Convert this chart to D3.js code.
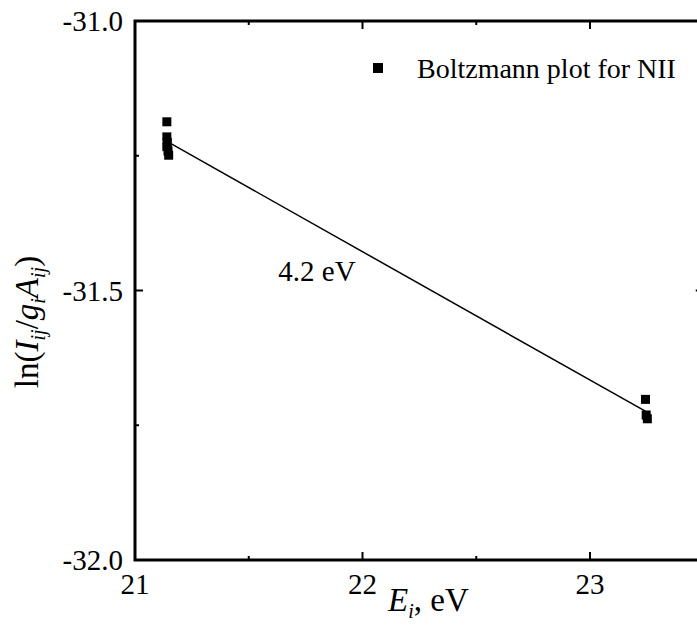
<!DOCTYPE html>
<html>
<head>
<meta charset="utf-8">
<script src="https://cdn.jsdelivr.net/npm/d3@7"></script>
<style>
  html, body { margin: 0; padding: 0; background: #fff; overflow: hidden; }
  svg { display: block; }
</style>
</head>
<body>
<svg id="chart" width="697" height="626"></svg>
<script>
// Upper energy level E_i (eV) of each N II line
const energy = [21.14, 21.14, 21.142, 21.14, 21.145, 21.148, 23.244, 23.247, 23.252];
// ln(I_ij / g_i A_ij) for each line
const lnIntensity = [-31.187, -31.215, -31.225, -31.233, -31.241, -31.249, -31.702, -31.731, -31.738];

// Linear fit: slope = -1/kT with kT = 4.2 eV
const fitTemperature = 4.2;
const fitStart = [21.16, -31.228];
const fitEnd = 23.245;

const xTicks = [21, 22, 23];
const xMinorTicks = [21.5, 22.5, 23.5];
const yTicks = [-31.0, -31.5, -32.0];
const yMinorTicks = [-31.25, -31.75];

const legendLabel = "Boltzmann plot for NII";
const slopeLabel = "4.2 eV";

const serif = "'Liberation Serif', 'Times New Roman', Times, 'DejaVu Serif', serif";

const svg = d3.select("#chart")
  .attr("font-family", serif)
  .style("font-family", serif);

const x = d3.scaleLinear().domain([21, 23.5]).range([135, 703.75]);
const y = d3.scaleLinear().domain([-32, -31]).range([560, 21]);

const plotLeft = x.range()[0], plotRight = x.range()[1];
const plotTop = y.range()[1], plotBottom = y.range()[0];

// Frame
svg.append("rect")
  .attr("x", plotLeft).attr("y", plotTop)
  .attr("width", plotRight - plotLeft).attr("height", plotBottom - plotTop)
  .attr("fill", "none").attr("stroke", "#000").attr("stroke-width", 3);

// Inward ticks on all four sides
const tickG = svg.append("g").attr("stroke", "#000").attr("stroke-width", 2);
function xTick(v, len) {
  tickG.append("line").attr("x1", x(v)).attr("x2", x(v)).attr("y1", plotBottom).attr("y2", plotBottom - len);
  tickG.append("line").attr("x1", x(v)).attr("x2", x(v)).attr("y1", plotTop).attr("y2", plotTop + len);
}
function yTick(v, len) {
  tickG.append("line").attr("y1", y(v)).attr("y2", y(v)).attr("x1", plotLeft).attr("x2", plotLeft + len);
  tickG.append("line").attr("y1", y(v)).attr("y2", y(v)).attr("x1", plotRight).attr("x2", plotRight - len);
}
xTicks.forEach(v => xTick(v, 8));
xMinorTicks.forEach(v => xTick(v, 4));
yTicks.forEach(v => yTick(v, 8));
yMinorTicks.forEach(v => yTick(v, 4));

// Tick labels
svg.append("g").selectAll("text").data(xTicks).join("text")
  .attr("x", d => x(d)).attr("y", plotBottom + 34)
  .attr("text-anchor", "middle").attr("font-size", 29)
  .style("font-family", serif)
  .text(d => d3.format("d")(d));

svg.append("g").selectAll("text").data(yTicks).join("text")
  .attr("x", plotLeft - 12).attr("y", d => y(d) + 10)
  .attr("text-anchor", "end").attr("font-size", 29)
  .style("font-family", serif)
  .text(d => d3.format(".1f")(d).replace("\u2212", "-"));

// Axis titles
const xt = svg.append("text").attr("x", 388).attr("y", 611).attr("font-size", 33)
  .style("font-family", serif);
xt.append("tspan").attr("font-style", "italic").text("E");
xt.append("tspan").attr("font-style", "italic").attr("font-size", 20).attr("dy", 7).text("i");
xt.append("tspan").attr("dy", -7).text(", eV");

const yt = svg.append("text")
  .attr("transform", "translate(38,322) rotate(-90)")
  .attr("text-anchor", "middle").attr("font-size", 33)
  .style("font-family", serif);
yt.append("tspan").text("ln(");
yt.append("tspan").attr("font-style", "italic").text("I");
yt.append("tspan").attr("font-style", "italic").attr("font-size", 20).attr("dy", 7).text("ij");
yt.append("tspan").attr("dy", -7).text("/");
yt.append("tspan").attr("font-style", "italic").text("g");
yt.append("tspan").attr("font-style", "italic").attr("font-size", 20).attr("dy", 7).text("i");
yt.append("tspan").attr("font-style", "italic").attr("dy", -7).text("A");
yt.append("tspan").attr("font-style", "italic").attr("font-size", 20).attr("dy", 7).text("ij");
yt.append("tspan").attr("dy", -7).text(")");

// Fit line
const fitY = e => fitStart[1] - (e - fitStart[0]) / fitTemperature;
svg.append("line")
  .attr("x1", x(fitStart[0])).attr("y1", y(fitY(fitStart[0])))
  .attr("x2", x(fitEnd)).attr("y2", y(fitY(fitEnd)))
  .attr("stroke", "#000").attr("stroke-width", 1.5);

// Data points
const sz = 9;
svg.append("g").selectAll("rect").data(energy.map((e, i) => [e, lnIntensity[i]])).join("rect")
  .attr("x", d => x(d[0]) - sz / 2).attr("y", d => y(d[1]) - sz / 2)
  .attr("width", sz).attr("height", sz).attr("fill", "#000");

// Slope annotation
svg.append("text").attr("x", x(21.63)).attr("y", y(-31.483))
  .attr("font-size", 29).style("font-family", serif).text(slopeLabel);

// Legend
svg.append("rect").attr("x", 373).attr("y", 63).attr("width", 10).attr("height", 10).attr("fill", "#000");
svg.append("text").attr("x", 417).attr("y", 78).attr("font-size", 28)
  .style("font-family", serif).text(legendLabel);
</script>
</body>
</html>
